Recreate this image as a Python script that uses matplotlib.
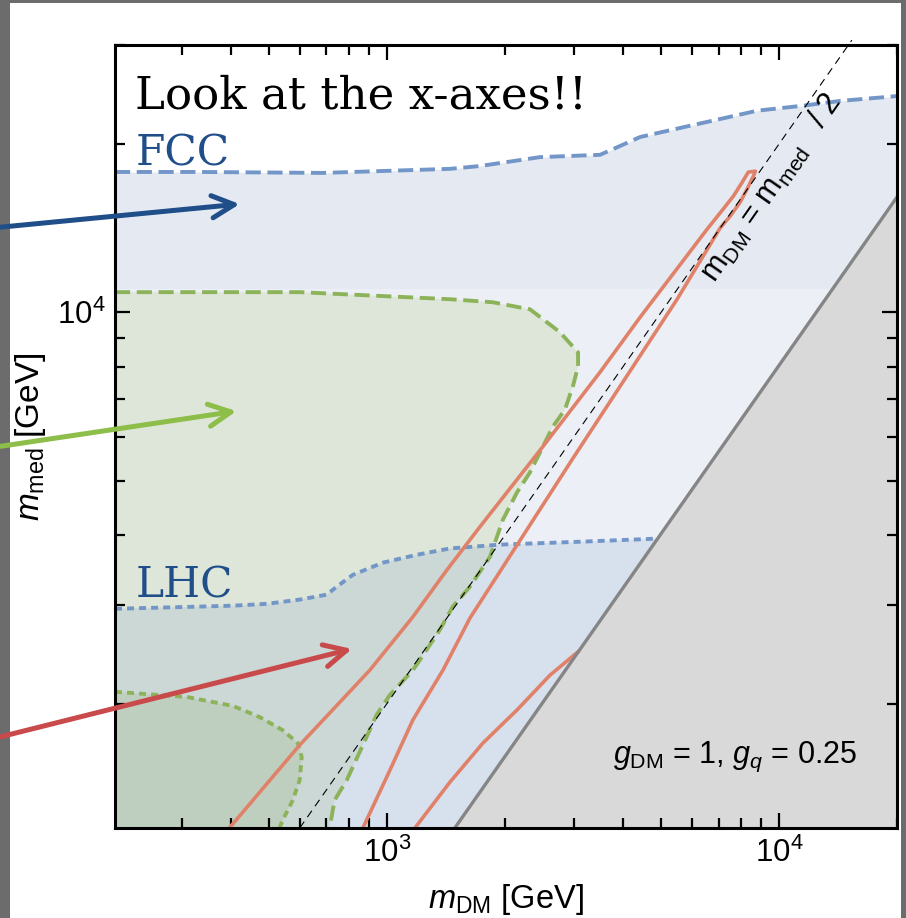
"""Ограничения на плоскость (m_DM, m_med): LHC и FCC.

Сохраняет out.png.
"""

from __future__ import annotations

import matplotlib

matplotlib.use("Agg")

import matplotlib.pyplot as plt
from matplotlib.patches import Rectangle
from matplotlib.ticker import NullFormatter

OUTPUT_PNG = "out.png"

X_LIMITS = [203, 20000]
Y_LIMITS = [1200, 30000]

# граница светлой полосы внутри области FCC
FCC_BAND_EDGE = 11000

FCC_X = [203, 333, 687, 1448, 1727, 2456, 3494, 3800, 4419, 5929, 8790, 11510, 14320, 20000]
FCC_Y = [17800, 17800, 17730, 18030, 18240, 18920, 19100, 19600, 20550, 21530, 22900, 23380, 23840, 24320]

GREEN_X = [203, 600, 1448, 1860, 2317, 2762, 3071, 3071, 2980, 2843, 2650, 2500, 2317, 2147,
           1977, 1832, 1629, 1473, 1365, 1214, 1165, 1018, 942, 869, 791, 736, 715]
GREEN_Y = [10860, 10860, 10550, 10420, 10120, 9210, 8480, 8000, 7380, 6700, 6250, 5760, 5180, 4770,
           4265, 3660, 3237, 2981, 2710, 2394, 2296, 2073, 1911, 1688, 1462, 1345, 1200]

SMALL_GREEN_X = [203, 309, 405, 474, 543, 593, 607, 600, 576, 543, 533]
SMALL_GREEN_Y = [2101, 2057, 1983, 1894, 1794, 1702, 1607, 1462, 1345, 1240, 1200]

LHC_X = [203, 405, 494, 600, 703, 746, 819, 977, 1193, 1448, 1941, 3162, 4913]
LHC_Y = [2955, 2993, 3016, 3069, 3132, 3237, 3397, 3572, 3690, 3787, 3847, 3895, 3944]

GRAY_X = [1490, 20000]
GRAY_Y = [1200, 16100]

DIAG_X = [600, 15300]
DIAG_Y = [1200, 30600]

RED_LEFT_X = [397, 600, 905, 1165, 1423, 1727, 2500, 3494, 4419, 6547, 7194, 7643, 8054, 8337, 8690]
RED_LEFT_Y = [1200, 1688, 2296, 2858, 3467, 4140, 5760, 7818, 9796, 14070, 15280, 16130, 17090, 17790, 17860]
RED_RIGHT_X = [8590, 8280, 7955, 7499, 7063, 5491, 2980, 1629, 1390, 1165, 1018, 869]
RED_RIGHT_Y = [17500, 16600, 15740, 14850, 14130, 10550, 5486, 2845, 2296, 1871, 1521, 1200]

RED_LOW_X = [1179, 1448, 1758, 2147, 2604, 3071]
RED_LOW_Y = [1200, 1449, 1702, 1950, 2249, 2477]

# куда указывают стрелки (m_DM, m_med)
ARROW_TARGETS = {"fcc": (422, 15600), "green": (414, 6660), "red": (815, 2506)}
ARROW_STARTS = {"fcc": 0.752, "green": 0.513, "red": 0.196}

SLIDE_COLOR = "#6c6c6c"
FCC_FILL = "#e5eaf2"
FCC_INNER_FILL = "#ecf0f6"
GREEN_FILL = "#dee6da"
SMALL_GREEN_FILL = "#cfdbbe"
LHC_FILL = "#7a9cc8"
GRAY_FILL = "#d9d9d9"
GRAY_LINE = "#858585"
BLUE_LINE = "#7396c8"
GREEN_LINE = "#8db35a"
RED_LINE = "#e0826a"
ARROW_COLORS = {"fcc": "#1f4e89", "green": "#8dbe4a", "red": "#c94a4b"}
TEXT_BLUE = "#1f4e89"


def draw_regions(axis: plt.Axes) -> None:
    """Заливки областей."""
    x_min, y_min = X_LIMITS[0], Y_LIMITS[0]

    axis.fill_between(FCC_X, y_min, FCC_Y, color=FCC_FILL, lw=0, zorder=1)
    axis.fill_between(X_LIMITS, y_min, FCC_BAND_EDGE, color=FCC_INNER_FILL, lw=0, zorder=1.1)
    axis.fill(GREEN_X + [x_min], GREEN_Y + [y_min], color=GREEN_FILL, lw=0, zorder=1.2)
    axis.fill(SMALL_GREEN_X + [x_min], SMALL_GREEN_Y + [y_min], color=SMALL_GREEN_FILL, lw=0, zorder=1.3)
    axis.fill(
        LHC_X + [GRAY_X[0], x_min],
        LHC_Y + [GRAY_Y[0], y_min],
        color=LHC_FILL,
        alpha=0.18,
        lw=0,
        zorder=1.4,
    )
    axis.fill(
        GRAY_X + [GRAY_X[1]],
        GRAY_Y + [y_min],
        color=GRAY_FILL,
        lw=0,
        zorder=1.5,
    )


def draw_lines(axis: plt.Axes) -> None:
    """Контуры ограничений."""
    axis.plot(FCC_X, FCC_Y, color=BLUE_LINE, lw=2.8, dashes=(3.9, 1.7), zorder=3)
    axis.plot(GREEN_X, GREEN_Y, color=GREEN_LINE, lw=2.8, dashes=(3.9, 1.7), zorder=3)
    axis.plot(LHC_X, LHC_Y, color=BLUE_LINE, lw=2.8, dashes=(1.8, 1.3), zorder=3)
    axis.plot(SMALL_GREEN_X, SMALL_GREEN_Y, color=GREEN_LINE, lw=2.8, dashes=(1.8, 1.3), zorder=3)

    axis.plot(RED_LEFT_X + RED_RIGHT_X, RED_LEFT_Y + RED_RIGHT_Y, color=RED_LINE, lw=2.6, zorder=4)
    axis.plot(RED_LOW_X, RED_LOW_Y, color=RED_LINE, lw=2.6, zorder=4)

    axis.plot(GRAY_X, GRAY_Y, color=GRAY_LINE, lw=2.4, zorder=4)
    axis.plot(DIAG_X, DIAG_Y, color="black", lw=0.8, dashes=(7, 5), zorder=4, clip_on=False)


def draw_arrows(axis: plt.Axes) -> None:
    """Стрелки, идущие слева из-за рамки."""
    for key, target in ARROW_TARGETS.items():
        axis.annotate(
            "",
            xy=target,
            xycoords="data",
            xytext=(-0.005, ARROW_STARTS[key]),
            textcoords="figure fraction",
            arrowprops=dict(
                arrowstyle="->,head_length=0.8,head_width=0.4",
                color=ARROW_COLORS[key],
                lw=3.6,
                shrinkA=0,
                shrinkB=0,
                mutation_scale=20,
            ),
            annotation_clip=False,
            zorder=10,
        )


def draw_texts(axis: plt.Axes) -> None:
    """Подписи внутри графика."""
    serif = dict(family="DejaVu Serif", va="baseline", ha="left", transform=axis.transAxes, zorder=6)
    axis.text(0.026, 0.9195, "Look at the x-axes!!", color="black", fontsize=32.5, **serif)
    axis.text(0.026, 0.8467, "FCC", color=TEXT_BLUE, fontsize=30.5, **serif)
    axis.text(0.026, 0.295, "LHC", color=TEXT_BLUE, fontsize=30.5, **serif)

    axis.text(
        0.949,
        0.083,
        r"$g_{\rm DM}$ = 1, $g_q$ = 0.25",
        fontsize=22,
        ha="right",
        va="baseline",
        transform=axis.transAxes,
        zorder=6,
    )
    axis.text(
        0.839,
        0.818,
        r"m$_{\rm DM}$ = m$_{\rm med}$   / 2",
        fontsize=22,
        rotation=55,
        rotation_mode="anchor",
        ha="center",
        va="center",
        transform=axis.transAxes,
        zorder=6,
    )


def main() -> None:
    """Точка входа."""
    plt.rcParams["font.family"] = "Liberation Sans"
    plt.rcParams["mathtext.fontset"] = "custom"
    plt.rcParams["mathtext.rm"] = "Liberation Sans"
    plt.rcParams["mathtext.it"] = "Liberation Sans:italic"
    plt.rcParams["mathtext.bf"] = "Liberation Sans:bold"

    figure = plt.figure(figsize=(9.06, 9.18), dpi=100, facecolor=SLIDE_COLOR)
    figure.patches.append(
        Rectangle(
            (0.011, 0.0),
            0.984,
            0.9967,
            transform=figure.transFigure,
            facecolor="white",
            edgecolor="none",
            zorder=-10,
        )
    )

    axis = figure.add_axes([0.1269, 0.0980, 0.8637, 0.8530])
    axis.set_xscale("log")
    axis.set_yscale("log")
    axis.set_xlim(X_LIMITS)
    axis.set_ylim(Y_LIMITS)

    draw_regions(axis)
    draw_lines(axis)
    draw_arrows(axis)
    draw_texts(axis)

    axis.xaxis.set_minor_formatter(NullFormatter())
    axis.yaxis.set_minor_formatter(NullFormatter())
    axis.tick_params(which="both", direction="in", top=True, right=True, width=1.6, labelsize=22.5, pad=7)
    axis.tick_params(which="major", length=11)
    axis.tick_params(which="minor", length=7)
    for spine in axis.spines.values():
        spine.set_linewidth(2.2)
        spine.set_zorder(5)

    axis.set_xlabel(r"$m_{\rm DM}$ [GeV]", fontsize=23.5, labelpad=9)
    axis.set_ylabel(r"$m_{\rm med}$ [GeV]", fontsize=24, labelpad=6)

    figure.savefig(OUTPUT_PNG, dpi=100, facecolor=figure.get_facecolor())
    plt.close(figure)


if __name__ == "__main__":
    main()
